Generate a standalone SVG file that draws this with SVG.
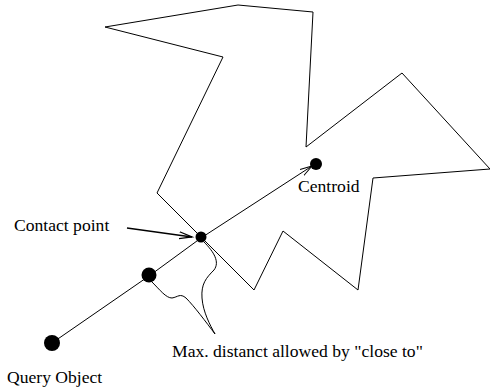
<svg xmlns="http://www.w3.org/2000/svg" width="490" height="389" viewBox="0 0 490 389">
<style>
.ln{fill:none;stroke:#000;stroke-width:1}
.dot{fill:#000}
text{font-family:"Liberation Serif","Times New Roman",serif;font-size:17.6px;fill:#000}
</style>
<defs>
<marker id="open" markerWidth="14" markerHeight="10" refX="12" refY="5" orient="auto" markerUnits="userSpaceOnUse">
<path d="M0,1.5 L12,5 L0,8.5" fill="none" stroke="#000" stroke-width="1"/>
</marker>
<marker id="open2" markerWidth="16" markerHeight="10" refX="13" refY="5" orient="auto" markerUnits="userSpaceOnUse">
<path d="M0,1.5 L13,5 L0,8.5" fill="none" stroke="#000" stroke-width="1.3"/>
</marker>
</defs>
<g id="polygon">
<polygon class="ln" points="105,27 238,5 313,12 306,147 402,73 490,169 373,178 358,290 283,231 254,290 157,193 223,57"/>
</g>
<g id="connectors">
<polyline class="ln" points="52,343 149,276 201,238 312,166" marker-end="url(#open)"/>
<line class="ln" x1="127" y1="228" x2="192" y2="237" style="stroke-width:1.3" marker-end="url(#open2)"/>
<path class="ln" d="M204,242 C214,252 220,262 214,270 C206,278 201,284 202,298 C203,312 210,325 215,334"/>
<path class="ln" d="M152,282 C160,290 166,298 172,298 C178,297 180,293 186,298 C194,306 206,322 215,334"/>
</g>
<g id="query">
<circle class="dot" cx="52" cy="343" r="8"/>
<text x="7" y="383">Query Object</text>
</g>
<g id="mid">
<circle class="dot" cx="149" cy="275" r="7.5"/>
</g>
<g id="contact">
<circle class="dot" cx="201" cy="237" r="5.5"/>
<text x="14" y="231">Contact point</text>
</g>
<g id="centroid">
<circle class="dot" cx="316" cy="164" r="6"/>
<text x="298" y="192">Centroid</text>
</g>
<g id="maxlabel">
<text x="172" y="357">Max. distanct allowed by "close to"</text>
</g>
</svg>
